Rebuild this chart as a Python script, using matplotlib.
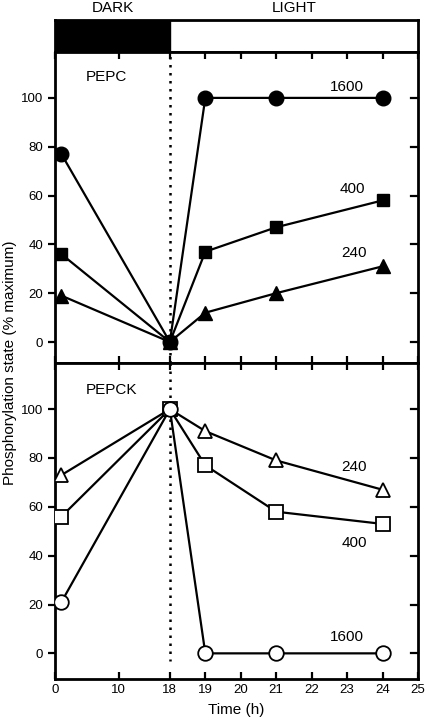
import numpy as np
import matplotlib
matplotlib.use("Agg")
import matplotlib.pyplot as plt

plt.rcParams['font.family'] = ['Liberation Sans', 'DejaVu Sans']

# ---- data ----
times = [1, 18, 19, 21, 24]
pepc_1600 = [77, 0, 100, 100, 100]
pepc_400 = [36, 0, 37, 47, 58]
pepc_240 = [19, 0, 12, 20, 31]

pepck_240 = [73, 100, 91, 79, 67]
pepck_400 = [56, 100, 77, 58, 53]
pepck_1600 = [21, 100, 0, 0, 0]

xticks = [0, 10, 18, 19, 20, 21, 22, 23, 24, 25]
yticks = [0, 20, 40, 60, 80, 100]
dark_end = 18

# ---- piecewise x-scale ----
K = 0.18
def fwd(x):
    x = np.asarray(x, dtype=float)
    return np.where(x <= 18, x * K, 18 * K + (x - 18))
def inv(u):
    u = np.asarray(u, dtype=float)
    return np.where(u <= 18 * K, u / K, 18 + (u - 18 * K))

fig = plt.figure(figsize=(4.27, 7.23), dpi=100)
L, W = 55 / 427, (418 - 55) / 427
def fy(ytop, ybot):
    return 1 - ybot / 723, (ybot - ytop) / 723

b, h = fy(20, 52)
axbar = fig.add_axes([L, b, W, h])
b, h = fy(52, 363)
ax1 = fig.add_axes([L, b, W, h])
b, h = fy(363, 679)
ax2 = fig.add_axes([L, b, W, h])

lw = 1.6
FS = 11
TFS = 9.5
for ax in (axbar, ax1, ax2):
    ax.set_xscale('function', functions=(fwd, inv))
    ax.set_xlim(0, 25)
    for s in ax.spines.values():
        s.set_linewidth(2)

# top bar
axbar.axvspan(0, dark_end, color='black')
axbar.set_ylim(0, 1)
axbar.set_xticks([]); axbar.set_yticks([])
axbar.text(0.5 * dark_end, 1.38, 'DARK', transform=axbar.get_xaxis_transform(),
           ha='center', va='center', fontsize=FS)
axbar.text(21.5, 1.38, 'LIGHT', transform=axbar.get_xaxis_transform(),
           ha='center', va='center', fontsize=FS)

def style(ax, ylim):
    ax.set_ylim(*ylim)
    ax.set_xticks(xticks)
    ax.set_yticks(yticks)
    ax.tick_params(axis='x', which='both', direction='in', top=True, bottom=True,
                   length=5, width=1.6, labelsize=TFS)
    ax.tick_params(axis='y', which='both', direction='out', left=True, right=False,
                   length=5, width=1.6, labelsize=TFS)
    for yt in yticks:
        ax.plot([1, 0.98], [yt, yt], transform=ax.get_yaxis_transform(),
                color='black', lw=1.6, clip_on=False)

# top panel (PEPC)
style(ax1, (-8.6, 118.8))
ax1.tick_params(axis='x', labelbottom=False)
ax1.axvline(dark_end, color='black', lw=1.8, linestyle=(0, (1, 2.2)), zorder=1)
ax1.plot(times, pepc_1600, '-o', color='black', lw=lw, ms=10.5, zorder=3)
ax1.plot(times, pepc_400, '-s', color='black', lw=lw, ms=8.5, zorder=3)
ax1.plot(times, pepc_240, '-^', color='black', lw=lw, ms=9.5, zorder=3)
ax1.text(8.0, 108.6, 'PEPC', ha='center', va='center', fontsize=FS)
ax1.text(23.0, 104.5, '1600', ha='center', va='center', fontsize=FS)
ax1.text(23.15, 62.7, '400', ha='center', va='center', fontsize=FS)
ax1.text(23.2, 36.5, '240', ha='center', va='center', fontsize=FS)

# bottom panel (PEPCK)
style(ax2, (-10.5, 118.9))
ax2.plot([dark_end, dark_end], [118.9, -3.3], color='black', lw=1.8,
         linestyle=(0, (1, 2.2)), zorder=1)
mk = dict(color='black', lw=lw, markerfacecolor='white', markeredgecolor='black',
          markeredgewidth=1.3, zorder=3)
ax2.plot(times, pepck_240, '-^', ms=10.5, **mk)
ax2.plot(times, pepck_400, '-s', ms=9.5, **mk)
ax2.plot(times, pepck_1600, '-o', ms=10.5, **mk)
ax2.text(8.9, 107.8, 'PEPCK', ha='center', va='center', fontsize=FS)
ax2.text(23.2, 76.3, '240', ha='center', va='center', fontsize=FS)
ax2.text(23.2, 45.0, '400', ha='center', va='center', fontsize=FS)
ax2.text(23.0, 6.5, '1600', ha='center', va='center', fontsize=FS)
ax2.set_xlabel('Time (h)', fontsize=FS, labelpad=5)

fig.text(0.024, 1 - 363 / 723, 'Phosphorylation state (% maximum)', rotation=90,
         ha='center', va='center', fontsize=FS)

fig.savefig('out.png', dpi=100)
